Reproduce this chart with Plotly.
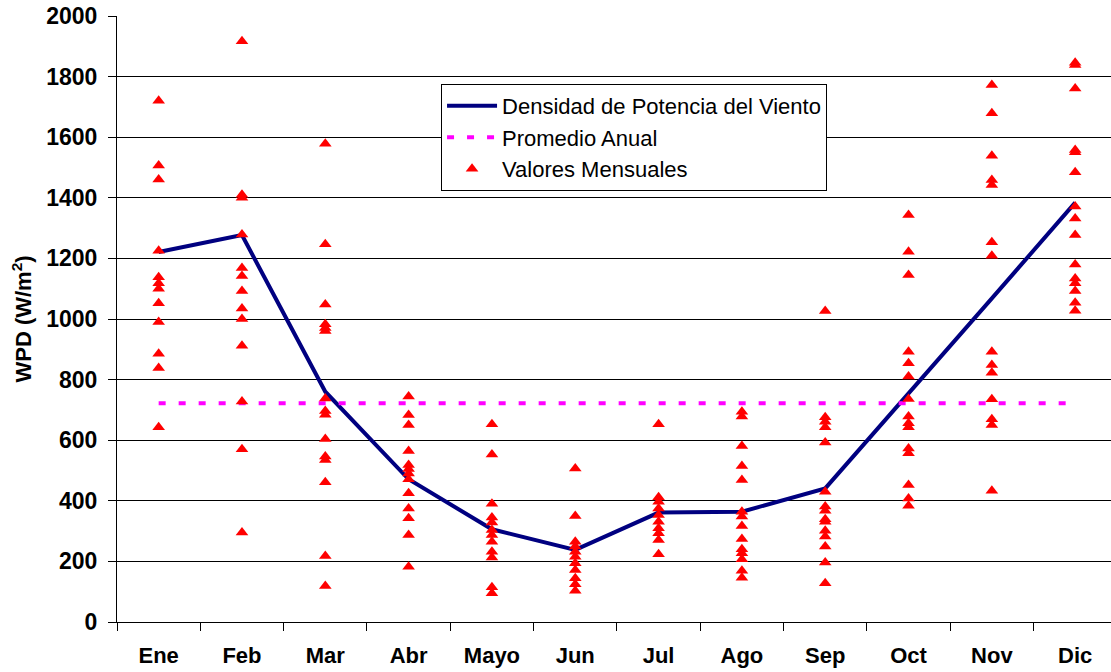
import plotly.graph_objects as go

months = ["Ene", "Feb", "Mar", "Abr", "Mayo", "Jun", "Jul", "Ago", "Sep", "Oct", "Nov", "Dic"]

# Densidad de Potencia del Viento (monthly mean)
wpd_mean = [1221, 1277, 760, 471, 306, 238, 361, 364, 441, 752, 1068, 1384]
# Promedio Anual
annual_avg = 722

# Valores Mensuales (individual years)
ene_vals = [1720, 1507, 1460, 1225, 1138, 1118, 1100, 1052, 990, 885, 838, 643]
feb_vals = [1917, 1410, 1400, 1279, 1168, 1142, 1092, 1035, 1000, 912, 728, 570, 295]
mar_vals = [1578, 1247, 1048, 983, 970, 960, 738, 696, 684, 604, 546, 535, 461, 218, 119]
abr_vals = [744, 683, 650, 564, 518, 505, 490, 471, 425, 375, 342, 287, 182]
mayo_vals = [653, 553, 390, 345, 328, 304, 287, 265, 232, 213, 115, 95]
jun_vals = [507, 350, 265, 249, 232, 215, 194, 172, 144, 125, 103]
jul_vals = [653, 412, 397, 375, 353, 331, 309, 293, 271, 224]
ago_vals = [694, 678, 581, 515, 469, 364, 348, 317, 274, 240, 227, 207, 169, 146]
sep_vals = [1026, 676, 661, 643, 592, 430, 381, 367, 339, 331, 301, 282, 249, 196, 128]
oct_vals = [1343, 1222, 1145, 892, 854, 810, 736, 678, 656, 643, 573, 557, 452, 408, 384]
nov_vals = [1772, 1679, 1539, 1459, 1442, 1253, 1209, 892, 848, 823, 735, 669, 650, 433]
dic_vals = [1846, 1838, 1761, 1558, 1550, 1484, 1371, 1332, 1277, 1180, 1134, 1118, 1092, 1054, 1027]

y_ticks = [0, 200, 400, 600, 800, 1000, 1200, 1400, 1600, 1800, 2000]

monthly_lists = [ene_vals, feb_vals, mar_vals, abr_vals, mayo_vals, jun_vals,
                 jul_vals, ago_vals, sep_vals, oct_vals, nov_vals, dic_vals]
pts_x, pts_y = [], []
for m, vals in zip(months, monthly_lists):
    for v in vals:
        pts_x.append(m)
        pts_y.append(v)

FONT = "Arial, Liberation Sans, sans-serif"

fig = go.Figure()
fig.add_trace(go.Scatter(
    x=months, y=wpd_mean, mode="lines",
    name="Densidad de Potencia del Viento",
    line=dict(color="#000080", width=4),
    legendgroup="a",
))
fig.add_trace(go.Scatter(
    x=months, y=[annual_avg] * len(months), mode="lines",
    name="Promedio Anual",
    line=dict(color="#FF00FF", width=4, dash="7px,13px"),
    legendgroup="b",
))
fig.add_trace(go.Scatter(
    x=pts_x, y=pts_y, mode="markers",
    name="Valores Mensuales",
    marker=dict(symbol="triangle-up", color="#FF0000", size=11, line=dict(width=0)),
    legendgroup="c",
))

fig.update_layout(
    width=1111, height=672,
    margin=dict(l=117, r=0, t=16, b=50, autoexpand=False),
    paper_bgcolor="white", plot_bgcolor="white",
    font=dict(family=FONT, color="black"),
    showlegend=True,
    legend=dict(
        x=0.326, y=0.888, xanchor="left", yanchor="top",
        bgcolor="white", bordercolor="black", borderwidth=1,
        font=dict(family=FONT, size=22, color="black"),
        tracegroupgap=4,
        itemwidth=50,
        traceorder="normal",
    ),
    xaxis=dict(
        type="category",
        categoryorder="array", categoryarray=months,
        range=[-0.5, 11.43],
        showgrid=False,
        showline=True, linecolor="black", linewidth=1,
        ticks="outside", tickson="boundaries", ticklen=8, tickcolor="black",
        tickfont=dict(family=FONT, size=22, color="black", weight="bold"),
        ticklabelstandoff=14,
        zeroline=False,
        automargin=False,
    ),
    yaxis=dict(
        range=[0, 2000],
        tickmode="array", tickvals=y_ticks, ticktext=[str(t) for t in y_ticks],
        showgrid=True, gridcolor="black", gridwidth=1,
        showline=True, linecolor="black", linewidth=1,
        ticks="outside", ticklen=8, tickcolor="black",
        tickfont=dict(family=FONT, size=23, color="black", weight="bold"),
        ticklabelstandoff=6,
        zeroline=False,
        automargin=False,
        title=dict(text="WPD (W/m<sup>2</sup>)", standoff=8,
                   font=dict(family=FONT, size=22, color="black", weight="bold")),
    ),
)

fig.write_html("out.html", post_script="document.body.style.margin='0';",
               config={"displayModeBar": False})
